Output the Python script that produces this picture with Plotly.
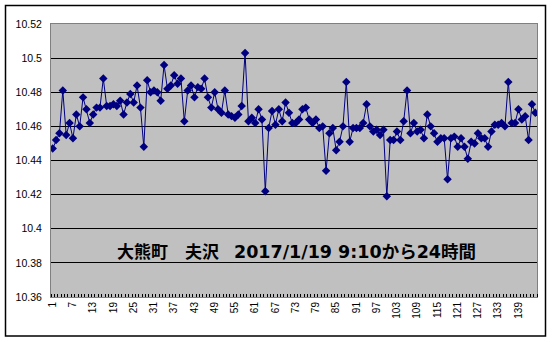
import plotly.graph_objects as go

# ---- data ----
x_index = list(range(1, 145))
values = [
    10.447, 10.452, 10.456, 10.481, 10.455, 10.462, 10.453, 10.467, 10.460, 10.477,
    10.470, 10.462, 10.467, 10.471, 10.471, 10.488, 10.472, 10.472, 10.473, 10.472,
    10.475, 10.467, 10.474, 10.479, 10.474, 10.484, 10.471, 10.448, 10.487, 10.480,
    10.481, 10.480, 10.475, 10.496, 10.482, 10.484, 10.490, 10.485, 10.488, 10.463,
    10.481, 10.484, 10.477, 10.483, 10.482, 10.488, 10.477, 10.471, 10.480, 10.470,
    10.468, 10.481, 10.467, 10.466, 10.465, 10.467, 10.472, 10.503, 10.463, 10.465,
    10.462, 10.470, 10.464, 10.422, 10.459, 10.469, 10.461, 10.470, 10.463, 10.474,
    10.468, 10.462, 10.462, 10.464, 10.470, 10.471, 10.464, 10.462, 10.464, 10.459,
    10.460, 10.434, 10.456, 10.459, 10.446, 10.451, 10.460, 10.486, 10.451, 10.459,
    10.459, 10.459, 10.462, 10.473, 10.460, 10.457, 10.458, 10.455, 10.458, 10.419,
    10.452, 10.452, 10.457, 10.452, 10.463, 10.481, 10.456, 10.462, 10.457, 10.458,
    10.453, 10.467, 10.460, 10.456, 10.451, 10.453, 10.453, 10.429, 10.453, 10.454,
    10.448, 10.453, 10.448, 10.441, 10.451, 10.450, 10.456, 10.453, 10.453, 10.448,
    10.457, 10.461, 10.461, 10.462, 10.460, 10.486, 10.462, 10.462, 10.470, 10.464,
    10.466, 10.452, 10.473, 10.468,
]
x_tick_vals = list(range(1, 145, 6))
x_tick_text = [str(v) for v in x_tick_vals]
y_tick_vals = [10.36, 10.38, 10.40, 10.42, 10.44, 10.46, 10.48, 10.50, 10.52]
y_tick_text = ["10.36", "10.38", "10.4", "10.42", "10.44", "10.46", "10.48", "10.5", "10.52"]
title_parts = ["大熊町", "夫沢", "2017/1/19 9:10から24時間"]

# ---- layout geometry (pixels) ----
W, H = 553, 342
L, R, T, B = 51, 537, 24, 297
pw, ph = R - L, B - T

def px(xp):
    return (xp - L) / pw

def py(yp):
    return (B - yp) / ph

fig = go.Figure()
fig.add_trace(go.Scatter(
    x=x_index, y=values, mode="lines+markers",
    line=dict(color="#000080", width=1),
    marker=dict(symbol="diamond", size=6.5, color="#000080"),
    hoverinfo="x+y", showlegend=False,
))

fig.update_layout(
    width=W, height=H,
    margin=dict(l=L, r=W - R, t=T, b=H - B, pad=0),
    paper_bgcolor="white",
    plot_bgcolor="#C0C0C0",
    font=dict(family="Liberation Sans, Arial", color="black"),
    xaxis=dict(
        range=[0.5, 144.5], tickmode="array",
        tickvals=x_tick_vals, ticktext=x_tick_text,
        tickangle=-90, tickfont=dict(size=10),
        showgrid=False, zeroline=False,
        showline=True, linecolor="#808080", linewidth=1, mirror=True,
        ticks="",
        minor=dict(tick0=0.5, dtick=1, ticks="inside", ticklen=3,
                   tickcolor="#000000", showgrid=False),
    ),
    yaxis=dict(
        range=[10.36, 10.52], tickmode="array",
        tickvals=y_tick_vals, ticktext=y_tick_text,
        tickfont=dict(size=10.5),
        showgrid=True, gridcolor="#000000", gridwidth=1,
        zeroline=False,
        showline=True, linecolor="#808080", linewidth=1, mirror=True,
        ticks="", ticklabelstandoff=6,
    ),
)

# outer chart border
fig.add_shape(type="rect", xref="paper", yref="paper",
              x0=px(5.5), x1=px(545.5), y0=py(336), y1=py(5.5),
              line=dict(color="black", width=1.5), layer="below")

# title text inside plot area
tfont = dict(family="DejaVu Sans, Noto Sans CJK JP", size=17, color="black", weight="bold")
tfont2 = dict(tfont, size=17.5)
fig.add_annotation(text="<b>" + title_parts[0] + "</b>", xref="paper", yref="paper",
                   x=px(142.5), y=py(252), xanchor="center", yanchor="middle",
                   showarrow=False, font=tfont)
fig.add_annotation(text="<b>" + title_parts[1] + "</b>", xref="paper", yref="paper",
                   x=px(201.5), y=py(252), xanchor="center", yanchor="middle",
                   showarrow=False, font=tfont)
fig.add_annotation(text="<b>" + title_parts[2] + "</b>", xref="paper", yref="paper",
                   x=px(232), y=py(252), xanchor="left", yanchor="middle",
                   showarrow=False, font=tfont2)

fig.write_html("out.html")
